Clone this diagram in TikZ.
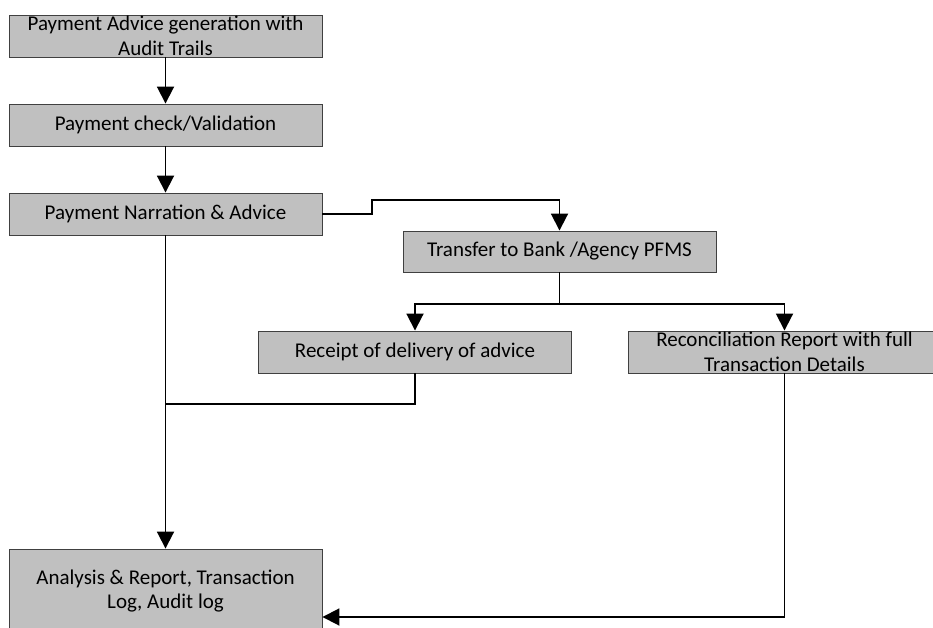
\documentclass[tikz,border=0pt]{standalone}
\usepackage{fontspec}
\setmainfont{Carlito}
\usetikzlibrary{arrows.meta}
\definecolor{boxgray}{RGB}{192,192,192}
\definecolor{boxedge}{RGB}{64,64,64}
\begin{document}
\begin{tikzpicture}[x=1pt,y=-1pt,
  box/.style={draw=boxedge, fill=boxgray, line width=0.9pt,
    minimum width=313pt, minimum height=42pt, inner sep=0pt,
    align=center, font=\fontsize{21}{24.5}\selectfont},
  link/.style={line width=1.9pt},
  flow/.style={link, -{Triangle[width=17pt,length=17pt]}}]
  \clip (0,0) rectangle (933,628);

  % process steps
  \node[box] (b1) at (165.5,36)  {Payment Advice generation with\\Audit Trails};
  \node[box] (b2) at (165.5,125) {Payment check/Validation};
  \node[box] (b3) at (165.5,214) {Payment Narration \& Advice};
  \node[box, minimum height=41pt] (b4) at (559.5,251.5) {Transfer to Bank /Agency PFMS};
  \node[box] (b5) at (415,352)   {Receipt of delivery of advice};
  \node[box] (b6) at (784.5,352) {Reconciliation Report with full\\Transaction Details};
  \node[box, minimum height=84pt] (b7) at (165.5,591) {Analysis \& Report, Transaction\\Log, Audit log};

  % routing points
  \coordinate (step) at (372,200);
  \coordinate (split) at (559.5,304);
  \coordinate (merge) at (165.5,404);
  \coordinate (back) at (784.5,617);

  % connectors
  \draw[flow] (b1.south) -- (b2.north);
  \draw[flow] (b2.south) -- (b3.north);
  \draw[flow] (b3.east) -- (b3.east -| step) -- (step) -| (b4.north);
  \draw[link] (b4.south) -- (split);
  \draw[flow] (split) -| (b5.north);
  \draw[flow] (split) -| (b6.north);
  \draw[link] (b5.south) |- (merge);
  \draw[flow] (b3.south) -- (b7.north);
  \draw[flow] (b6.south) -- (back) -- (back -| b7.east);
\end{tikzpicture}
\end{document}
